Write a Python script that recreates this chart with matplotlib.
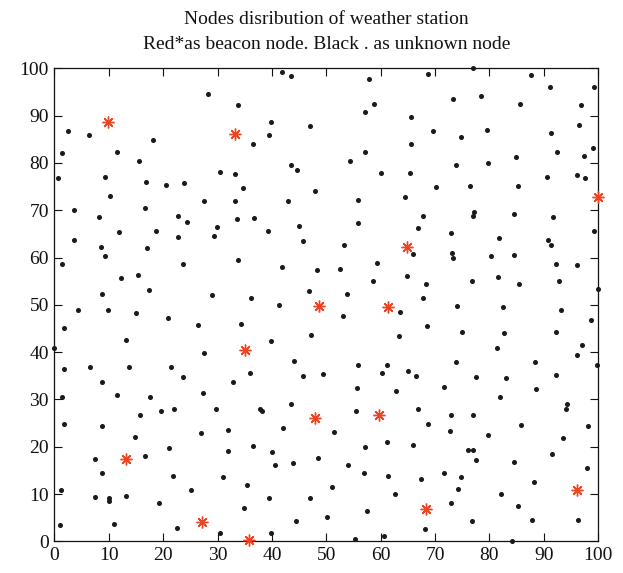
import matplotlib
matplotlib.use("Agg")
import matplotlib.pyplot as plt

plt.rcParams['font.family'] = ['Liberation Serif', 'DejaVu Serif']

title_lines = ["Nodes disribution of weather station",
               "Red*as beacon node. Black . as unknown node"]

beacon_x = [9.8, 33.3, 99.9, 48.6, 35.1, 64.8, 61.3, 48.0, 27.1, 35.7, 59.7, 68.3, 96.1, 13.2]
beacon_y = [88.6, 86.2, 72.7, 49.8, 40.5, 62.3, 49.5, 26.1, 4.1, 0.3, 26.8, 6.9, 10.8, 17.4]

unknown_x = [
    2.5, 6.3, 18.1, 1.4, 11.5, 15.6, 0.7, 9.4, 16.8, 20.5, 23.8, 10.2, 3.6, 16.7, 8.3, 22.8, 24.3,
    41.9, 43.6, 28.2, 33.8, 39.8, 47.0, 39.4, 36.5, 43.5, 44.6, 30.5, 33.3, 34.7, 48.0, 27.5, 33.2, 42.9, 33.6, 36.8,
    57.9, 68.7, 73.3, 58.7, 57.2, 65.6, 69.6, 65.5, 57.1, 54.3, 73.8, 60.1, 65.3, 70.1, 55.8, 64.4, 67.7, 55.8,
    76.9, 87.6, 91.2, 99.2, 78.4, 85.7, 96.9, 96.4, 79.5, 74.8, 91.3, 99.0, 92.5, 97.4, 84.8, 79.7, 90.5, 96.0, 97.5,
    76.4, 85.3, 77.2, 76.9, 84.5, 91.6,
    11.8, 18.7, 22.7, 3.7, 8.5, 17.0, 9.3, 1.4, 23.6, 12.2, 15.4, 17.4, 8.7, 4.4, 9.9, 15.0, 20.9, 1.8, 13.1, 0.0,
    1.8, 6.5, 13.7, 21.5, 23.6, 8.7,
    29.9, 44.9, 29.4, 39.2, 45.8, 33.8, 41.9, 48.3, 28.9, 36.1, 46.9, 41.3, 26.5, 34.4, 47.2, 39.8, 27.5, 44.1, 35.9,
    45.8, 49.4, 32.8,
    66.8, 72.9, 53.3, 65.9, 73.1, 73.3, 59.3, 52.5, 64.9, 58.6, 68.3, 53.8, 67.7, 63.6, 53.1, 68.6, 63.3, 55.9, 61.2,
    60.2, 65.1, 66.5,
    99.2, 81.7, 90.8, 91.4, 80.3, 84.6, 92.2, 96.1, 76.8, 81.5, 85.4, 92.8, 99.9, 74.0, 82.4, 93.1, 98.7, 75.0, 82.7,
    92.2, 81.3, 97.1, 96.0, 73.9, 88.3, 99.8, 77.5, 83.1, 92.2,
    1.5, 11.5, 17.6, 19.6, 22.0, 15.7, 1.7, 8.8, 14.8, 21.0, 7.4, 16.7, 8.8, 21.8, 1.2, 7.4, 10.0, 10.1, 13.2, 19.3,
    1.0, 10.9, 22.5,
    27.3, 29.7, 37.9, 38.1, 43.6, 27.0, 31.9, 42.0, 31.9, 36.5, 40.1, 40.5, 43.9, 48.5, 31.0, 25.1, 35.4, 39.5, 47.0,
    34.8, 44.4, 30.5, 39.8,
    55.6, 62.8, 71.6, 55.4, 66.9, 72.9, 68.7, 72.7, 51.5, 57.2, 61.2, 65.9, 54.0, 56.9, 61.3, 67.4, 71.6, 74.2, 51.0,
    62.6, 72.9, 57.5, 50.1, 68.2, 55.3, 60.6,
    88.5, 81.9, 94.2, 94.1, 77.0, 85.8, 98.2, 79.8, 93.6, 76.0, 77.0, 91.5, 77.5, 84.6, 98.0, 74.7, 88.1, 82.2, 85.3,
    76.7, 87.9, 96.3, 84.2,
]
unknown_y = [
    86.8, 86.0, 84.9, 82.1, 82.4, 80.5, 76.8, 77.1, 76.0, 75.4, 75.8, 72.9, 70.0, 70.4, 68.6, 68.7, 67.5,
    99.2, 98.3, 94.6, 92.2, 88.6, 87.9, 86.0, 84.0, 79.6, 78.4, 78.0, 77.7, 74.6, 74.1, 71.9, 71.9, 72.0, 68.1, 68.4,
    97.7, 98.7, 93.6, 92.5, 90.8, 89.6, 86.7, 83.9, 82.4, 80.5, 79.6, 77.8, 77.8, 74.9, 72.2, 72.8, 68.8, 67.2,
    100.0, 98.5, 96.1, 96.0, 94.2, 92.5, 92.3, 88.0, 87.0, 85.5, 86.3, 83.1, 82.4, 81.5, 81.2, 80.0, 77.0, 77.4, 76.8,
    75.1, 75.1, 69.6, 68.7, 69.1, 68.6,
    65.3, 65.7, 64.4, 63.8, 62.3, 62.1, 60.4, 58.7, 58.6, 55.7, 56.3, 53.1, 52.2, 49.0, 48.8, 48.2, 47.3, 45.0, 42.6, 40.8,
    36.5, 36.9, 36.9, 36.9, 34.8, 33.6,
    66.4, 66.7, 64.5, 65.5, 63.4, 59.5, 58.0, 57.4, 52.0, 51.4, 52.9, 49.9, 45.8, 45.9, 43.6, 42.4, 39.9, 38.2, 35.5,
    35.0, 35.4, 33.7,
    66.2, 65.1, 62.6, 60.8, 61.0, 59.8, 58.8, 57.6, 56.1, 55.0, 54.5, 52.2, 51.4, 48.5, 47.7, 45.6, 43.4, 37.2, 37.3,
    35.5, 36.1, 35.0,
    65.7, 64.1, 63.6, 62.7, 60.3, 60.6, 58.6, 58.4, 55.0, 55.9, 54.4, 55.0, 53.4, 49.7, 49.5, 49.0, 46.7, 44.2, 44.0,
    44.3, 40.8, 41.6, 39.4, 38.0, 38.0, 37.3, 34.8, 34.5, 35.2,
    30.6, 30.9, 30.5, 27.6, 27.9, 26.6, 24.7, 24.3, 22.1, 19.7, 17.5, 18.0, 14.4, 13.9, 10.9, 9.4, 9.1, 8.6, 9.5, 8.0,
    3.5, 3.7, 2.8,
    31.4, 28.0, 28.0, 27.5, 29.0, 23.0, 23.5, 24.0, 19.1, 20.1, 18.9, 16.1, 16.6, 17.7, 13.6, 10.9, 11.9, 9.1, 9.2,
    7.0, 4.4, 1.8, 1.8,
    32.4, 31.8, 32.7, 27.5, 28.0, 26.6, 24.7, 23.3, 23.2, 20.0, 20.9, 20.4, 16.2, 14.5, 13.8, 13.2, 14.5, 11.1, 11.5,
    10.0, 8.0, 6.5, 5.2, 2.5, 0.5, 1.1,
    32.2, 30.5, 29.0, 28.0, 26.8, 24.5, 24.3, 22.5, 21.8, 19.3, 19.2, 18.5, 17.2, 16.8, 15.4, 13.6, 12.5, 9.9, 7.5,
    4.2, 4.5, 4.5, 0.0,
]

x_ticks = list(range(0, 101, 10))
y_ticks = list(range(0, 101, 10))

fig = plt.figure(figsize=(6.23, 5.73), dpi=100)
ax = fig.add_axes([0.0872, 0.0553, 0.8731, 0.8255])

ax.plot(unknown_x, unknown_y, linestyle='none', marker='o', markersize=2.6,
        color='#1a1a1a', clip_on=False, zorder=3)
ax.plot(beacon_x, beacon_y, linestyle='none', marker=(8, 2, 0), markersize=8.5,
        markeredgewidth=1.0, color='#ee4422', clip_on=False, zorder=4)

ax.set_xlim(0, 100)
ax.set_ylim(0, 100)
ax.set_xticks(x_ticks)
ax.set_yticks(y_ticks)
ax.tick_params(direction='in', length=6, width=0.8, top=True, right=True,
               labelsize=14, pad=4, colors='#111111')
for s in ax.spines.values():
    s.set_linewidth(0.9)
    s.set_color('#111111')

ax.set_title("\n".join(title_lines), fontsize=14, linespacing=1.6, pad=14, color='#111111')

fig.savefig("out.png", dpi=100)
